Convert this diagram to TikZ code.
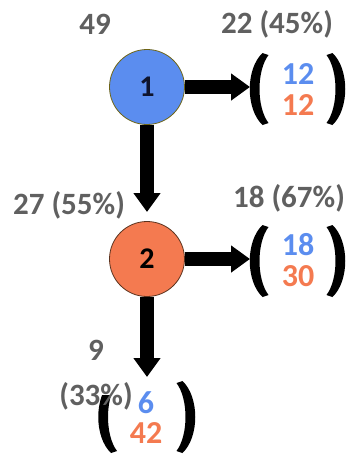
\documentclass[tikz,border=0pt]{standalone}
\usepackage{fontspec}
\setmainfont{Carlito}
\usetikzlibrary{arrows.meta}
\definecolor{nblue}{RGB}{91,141,239}
\definecolor{norange}{RGB}{244,122,80}
\definecolor{tgray}{RGB}{96,96,96}
\definecolor{navy}{RGB}{15,20,45}
\tikzset{
  state/.style={circle, minimum size=75pt, inner sep=0pt, line width=0.8pt, font=\bfseries\fontsize{30}{30}\selectfont},
  flow/.style={line width=14pt, -{Triangle[width=26pt,length=19pt]}},
  lbl/.style={text=tgray, font=\bfseries\fontsize{31}{31}\selectfont, inner sep=0pt},
  num/.style={font=\bfseries\fontsize{32}{32}\selectfont, inner sep=0pt},
  lparen/.pic={\fill[black] (5,-36) .. controls (-12,-20) and (-12,20) .. (5,36)
      -- (11,34) .. controls (-1,18) and (-1,-18) .. (11,-34) -- cycle;},
  rparen/.pic={\begin{scope}[xscale=-1]\fill[black] (5,-36) .. controls (-12,-20) and (-12,20) .. (5,36)
      -- (11,34) .. controls (-1,18) and (-1,-18) .. (11,-34) -- cycle;\end{scope}}
}
\begin{document}
\begin{tikzpicture}[x=1pt,y=-1pt]
\useasboundingbox (0,0) rectangle (351,456);
% nodes
\node[state, fill=nblue, text=navy, draw={rgb,255:red,110;green,100;blue,20}] (n1) at (147,87) {1};
\node[state, fill=norange, draw={rgb,255:red,90;green,50;blue,30}] (n2) at (147,259) {2};
% bracket 1
\pic at (257.5,89) {lparen};
\pic at (337.5,89) {rparen};
\node[num, text=nblue] (a1) at (298,74) {12};
\node[num, text=norange] (b1) at (298,105) {12};
% bracket 2
\pic at (257.5,261) {lparen};
\pic at (337.5,261) {rparen};
\node[num, text=nblue] (a2) at (298,245) {18};
\node[num, text=norange] (b2) at (298,276) {30};
% bracket 3
\begin{scope}
  \clip (85,395) rectangle (130,460);
  \pic at (106,417) {lparen};
\end{scope}
\pic at (187.5,417) {rparen};
\node[num, text=nblue] (a3) at (146,403) {6};
\node[num, text=norange] (b3) at (146,433) {42};
% labels
\node[lbl] (t49) at (95,24) {49};
\node[lbl] (t22) at (277,24) {22 (45\%)};
\node[lbl] (t27) at (69,205) {27 (55\%)};
\node[lbl] (t18) at (289,198) {18 (67\%)};
\node[lbl] (t9) at (96,350) {9};
\node[lbl] (t33) at (96,396) {(33\%)};
% connectors
\coordinate (e1) at (250,87);
\coordinate (e2) at (250,259);
\coordinate (e3) at (147,377);
\coordinate (d1) at (147,212);
\draw[flow] (n1.east) -- (e1);
\draw[flow] (n2.east) -- (e2);
\draw[flow] (n1.south) -- (d1);
\draw[flow] (n2.south) -- (e3);
\end{tikzpicture}
\end{document}
